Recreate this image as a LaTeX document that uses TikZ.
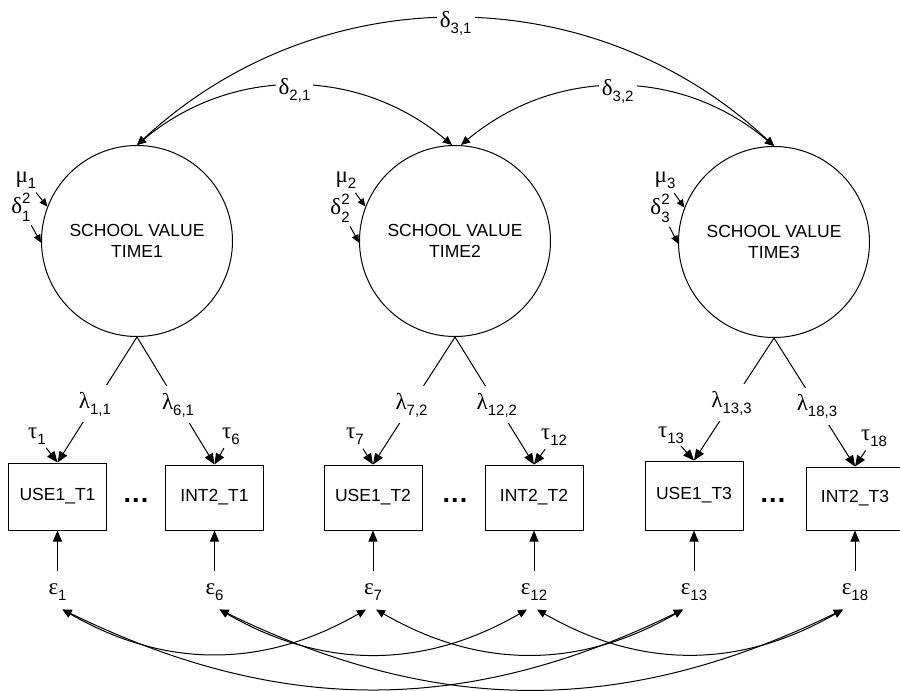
\documentclass[tikz,border=0pt]{standalone}
\usepackage{fontspec}
\setmainfont{Liberation Sans}
\newfontfamily\greekfont{Liberation Serif}
\usetikzlibrary{arrows.meta}

% Greek symbol, lowered index, stacked exponent/index
\newcommand\gr[1]{{\greekfont\fontsize{23}{23}\selectfont #1}}
\newcommand\lsub[1]{\raisebox{-6pt}{\fontsize{15}{15}\selectfont #1}}
\newcommand\lsupsub[2]{\rlap{\raisebox{10pt}{\fontsize{15}{15}\selectfont #1}}\raisebox{-8pt}{\fontsize{15}{15}\selectfont #2}}

\begin{document}
\begin{tikzpicture}[x=1pt,y=-1pt,
  line width=1pt,
  latent/.style={circle, draw, minimum size=191pt, inner sep=0pt, align=center,
    font=\fontsize{17.5}{20.5}\selectfont},
  manifest/.style={rectangle, draw, minimum width=98pt, inner sep=0pt,
    font=\fontsize{17.5}{20}\selectfont},
  param/.style={inner sep=0pt, font=\fontsize{19}{19}\selectfont},
  cut/.style={fill=white, inner xsep=2pt, inner ysep=8pt, text height=15pt, text depth=6pt},
  dlab/.style={fill=white, inner xsep=3pt, inner ysep=1pt, yshift=-5pt},
  err/.style={anchor=base, inner xsep=0pt, inner ysep=11pt, text height=12pt, text depth=4pt},
  ellip/.style={inner sep=0pt, font=\fontsize{27}{27}\bfseries},
  head/.style={-{Triangle[length=11pt,width=9pt]}},
  tip/.style={-{Triangle[length=8pt,width=7pt]}},
  both/.style={{Triangle[length=9pt,width=8pt]}-{Triangle[length=9pt,width=8pt]}}]

\useasboundingbox (0,0) rectangle (900,691);
\fill[white] (0,0) rectangle (900,691);
\clip (0,0) rectangle (900,691);

% latent factors
\node[latent] (c1) at (137,241) {SCHOOL VALUE\\TIME1};
\node[latent] (c2) at (455,241) {SCHOOL VALUE\\TIME2};
\node[latent] (c3) at (774,242) {SCHOOL VALUE\\TIME3};

% indicators
\node[manifest, minimum height=67pt] (u1) at (57.5,496.5) {USE1\_T1};
\node[manifest, minimum height=65pt] (i1) at (214.5,497.5) {INT2\_T1};
\node[manifest, minimum height=65pt] (u2) at (373,497.5) {USE1\_T2};
\node[manifest, minimum height=65pt] (i2) at (534,497.5) {INT2\_T2};
\node[manifest, minimum height=69pt] (u3) at (694,495.5) {USE1\_T3};
\node[manifest, minimum height=63pt] (i3) at (855,498.5) {INT2\_T3};

\node[ellip] (g1) at (136,500) {.\kern1.2pt.\kern1.2pt.};
\node[ellip] (g2) at (455,500) {.\kern1.2pt.\kern1.2pt.};
\node[ellip] (g3) at (773,500) {.\kern1.2pt.\kern1.2pt.};

% factor means and variances
\node[param] (m1) at (26,180) {\gr{μ}\lsub{1}};
\node[param] (v1) at (21,207) {\gr{δ}\lsupsub{2}{1}};
\node[param] (m2) at (346,180) {\gr{μ}\lsub{2}};
\node[param] (v2) at (340,208) {\gr{δ}\lsupsub{2}{2}};
\node[param] (m3) at (665,180) {\gr{μ}\lsub{3}};
\node[param] (v3) at (660,208) {\gr{δ}\lsupsub{2}{3}};
\foreach \k in {1,2,3}{
  \draw[tip, shorten <=16pt] (m\k.center) -- (c\k.159);
  \draw[tip, shorten <=21pt] (v\k.center) -- (c\k.181);
}

% factor covariances
\draw[both] (c1.north) to[bend left=40] node[dlab]{\gr{δ}\lsub{2,1}} ([xshift=-3pt]c2.north);
\draw[both] ([xshift=6pt]c2.north) to[bend left=40] node[dlab]{\gr{δ}\lsub{3,2}} (c3.north);
\draw[both] (c1.north) to[bend left=43] node[dlab]{\gr{δ}\lsub{3,1}} (c3.north);

% loadings
\draw[head] (c1.south) -- node[cut, pos=0.53] {\gr{λ}\lsub{1,1}} (u1.north);
\draw[head] (c1.south) -- node[cut, pos=0.53] {\gr{λ}\lsub{6,1}} (i1.north);
\draw[head] (c2.south) -- node[cut, pos=0.53] {\gr{λ}\lsub{7,2}} (u2.north);
\draw[head] (c2.south) -- node[cut, pos=0.53] {\gr{λ}\lsub{12,2}} (i2.north);
\draw[head] (c3.south) -- node[cut, pos=0.53] {\gr{λ}\lsub{13,3}} (u3.north);
\draw[head] (c3.south) -- node[cut, pos=0.53] {\gr{λ}\lsub{18,3}} (i3.north);

% intercepts
\node[param] (t1) at (37,436) {\gr{τ}\lsub{1}};
\node[param] (t6) at (231,436) {\gr{τ}\lsub{6}};
\node[param] (t7) at (355,436) {\gr{τ}\lsub{7}};
\node[param] (t12) at (554,437) {\gr{τ}\lsub{12}};
\node[param] (t13) at (671,435) {\gr{τ}\lsub{13}};
\node[param] (t18) at (874,438) {\gr{τ}\lsub{18}};
\draw[head, shorten <=15pt] (t1.center) -- (u1.north);
\draw[head, shorten <=14pt] (t6.center) -- (i1.north);
\draw[head, shorten <=15pt] (t7.center) -- (u2.north);
\draw[head, shorten <=15pt] (t12.center) -- (i2.north);
\draw[head, shorten <=15pt] (t13.center) -- (u3.north);
\draw[head, shorten <=15pt] (t18.center) -- (i3.north);

% residuals
\node[err] (e1) at (57.5,594) {\gr{ε}\lsub{1}};
\node[err] (e6) at (214.5,594) {\gr{ε}\lsub{6}};
\node[err] (e7) at (373,594) {\gr{ε}\lsub{7}};
\node[err] (e12) at (534,594) {\gr{ε}\lsub{12}};
\node[err] (e13) at (694,594) {\gr{ε}\lsub{13}};
\node[err] (e18) at (855,594) {\gr{ε}\lsub{18}};
\draw[head] (e1.north) -- (u1.south);
\draw[head] (e6.north) -- (i1.south);
\draw[head] (e7.north) -- (u2.south);
\draw[head] (e12.north) -- (i2.south);
\draw[head] (e13.north) -- (u3.south);
\draw[head] (e18.north) -- (i3.south);

% residual covariances across time
\draw[both] ([xshift=5pt]e1.south) to[bend right=30] ([xshift=-7pt]e7.south);
\draw[both] ([xshift=5pt]e1.south) to[bend right=26] ([xshift=-11pt]e13.south);
\draw[both] ([xshift=3pt]e7.south) to[bend right=30] ([xshift=-11pt]e13.south);
\draw[both] ([xshift=5pt]e6.south) to[bend right=30] ([xshift=-7pt]e12.south);
\draw[both] ([xshift=5pt]e6.south) to[bend right=26] ([xshift=-12pt]e18.south);
\draw[both] ([xshift=3pt]e12.south) to[bend right=30] ([xshift=-12pt]e18.south);
\end{tikzpicture}
\end{document}
